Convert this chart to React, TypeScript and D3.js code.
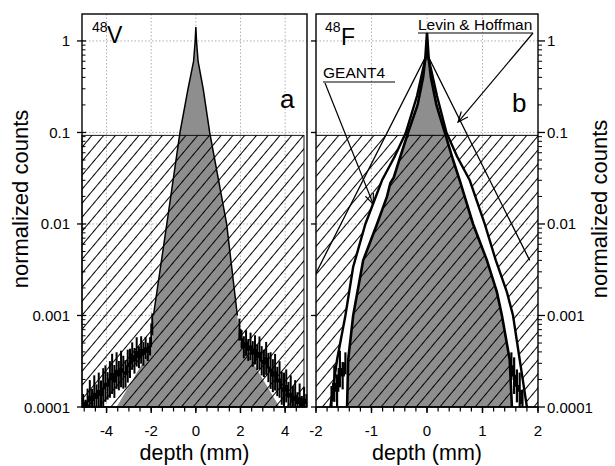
import React from "react";
import * as d3 from "d3";

const W = 615;
const H = 466;
const FONT = "Liberation Sans, Arial, Helvetica, sans-serif";

// shared log axis
const yTickValues = [1e-4, 1e-3, 1e-2, 1e-1, 1];
const yTickLabels = ["0.0001", "0.001", "0.01", "0.1", "1"];
const hatchTop = 0.093;

// ---- panel a : 48V ----
const aTicks = [-4, -2, 0, 2, 4];
const aTickLabels = ["-4", "-2", "0", "2", "4"];
// smooth fill (gray) incl. tails, outline uses the core part
const aFillDepth = [-3.55, -1.97, -1.9, -1.3, -0.71, -0.35, -0.1, -0.03, 0, 0.03, 0.1, 0.33, 0.62, 1.38, 1.86, 1.95, 3.75];
const aFillCounts = [1e-4, 4.5e-4, 0.001, 0.01, 0.1, 0.3, 0.6, 1.0, 1.42, 1.0, 0.6, 0.3, 0.1, 0.01, 0.001, 5.4e-4, 1e-4];
// noisy tails (bin centers, 0.1 mm bins)
const aTailLeftDepth = [-5.05, -4.95, -4.85, -4.75, -4.65, -4.55, -4.45, -4.35, -4.25, -4.15, -4.05, -3.95, -3.85, -3.75, -3.65, -3.55, -3.45, -3.35, -3.25, -3.15, -3.05, -2.95, -2.85, -2.75, -2.65, -2.55, -2.45, -2.35, -2.25, -2.15, -2.05, -1.95];
const aTailLeftCounts = [1.1e-4, 1.0e-4, 1.15e-4, 1.3e-4, 1.2e-4, 1.4e-4, 1.25e-4, 1.5e-4, 1.35e-4, 1.6e-4, 1.8e-4, 1.7e-4, 2.0e-4, 2.3e-4, 1.9e-4, 2.5e-4, 2.2e-4, 2.6e-4, 2.4e-4, 2.3e-4, 2.8e-4, 3.0e-4, 3.6e-4, 3.2e-4, 4.0e-4, 3.5e-4, 4.2e-4, 3.8e-4, 4.4e-4, 4.0e-4, 4.6e-4, 8.0e-4];
const aTailLeftErr = [0.1, 0.08, 0.14, 0.18, 0.12, 0.2, 0.15, 0.2, 0.16, 0.22, 0.2, 0.15, 0.2, 0.22, 0.18, 0.2, 0.16, 0.2, 0.18, 0.15, 0.18, 0.16, 0.15, 0.14, 0.16, 0.12, 0.15, 0.13, 0.12, 0.1, 0.1, 0.12];
const aTailRightDepth = [1.95, 2.05, 2.15, 2.25, 2.35, 2.45, 2.55, 2.65, 2.75, 2.85, 2.95, 3.05, 3.15, 3.25, 3.35, 3.45, 3.55, 3.65, 3.75, 3.85, 3.95, 4.05, 4.15, 4.25, 4.35, 4.45, 4.55, 4.65, 4.75, 4.85, 4.95];
const aTailRightCounts = [7e-4, 5.5e-4, 4.5e-4, 5.0e-4, 4.2e-4, 4.6e-4, 3.8e-4, 4.2e-4, 3.5e-4, 3.9e-4, 3.2e-4, 3.0e-4, 3.4e-4, 2.7e-4, 2.5e-4, 2.2e-4, 2.4e-4, 1.9e-4, 2.0e-4, 1.6e-4, 1.5e-4, 1.7e-4, 1.3e-4, 1.4e-4, 1.2e-4, 1.3e-4, 1.1e-4, 1.25e-4, 1.05e-4, 1.2e-4, 1.1e-4];
const aTailRightErr = [0.12, 0.1, 0.12, 0.14, 0.12, 0.15, 0.14, 0.16, 0.14, 0.18, 0.16, 0.15, 0.18, 0.16, 0.2, 0.18, 0.2, 0.16, 0.2, 0.18, 0.2, 0.18, 0.16, 0.2, 0.15, 0.18, 0.12, 0.16, 0.1, 0.14, 0.1];

// ---- panel b : 48F ----
const bTicks = [-2, -1, 0, 1, 2];
const bTickLabels = ["-2", "-1", "0", "1", "2"];
const bMeasDepth = [-1.44, -1.42, -1.33, -1.15, -0.9, -0.72, -0.66, -0.6, -0.5, -0.34, -0.17, -0.07, -0.03, 0, 0.03, 0.07, 0.17, 0.32, 0.47, 0.59, 0.83, 1.08, 1.26, 1.35, 1.49, 1.53];
const bMeasCounts = [1e-4, 3.3e-4, 0.001, 0.004, 0.01, 0.02, 0.028, 0.032, 0.05, 0.1, 0.2, 0.4, 0.65, 1.22, 0.65, 0.4, 0.2, 0.1, 0.05, 0.03, 0.01, 0.004, 0.0018, 0.001, 3.3e-4, 1e-4];
const bG4Depth = [-1.74, -1.62, -1.47, -1.33, -1.11, -0.81, -0.58, -0.38, -0.18, -0.07, 0, 0.07, 0.18, 0.35, 0.54, 0.77, 1.04, 1.24, 1.44, 1.55, 1.67, 1.8];
const bG4Counts = [1e-4, 3.3e-4, 0.001, 0.0034, 0.01, 0.03, 0.055, 0.1, 0.25, 0.5, 0.75, 0.5, 0.25, 0.1, 0.055, 0.03, 0.01, 0.004, 0.0018, 0.001, 3.3e-4, 1e-4];
const bLhDepth = [-2, 0, 1.85];
const bLhCounts = [0.0029, 0.72, 0.004];
const bTailLeftDepth = [-1.72, -1.67, -1.62, -1.57, -1.52, -1.47];
const bTailLeftCounts = [1.2e-4, 1.8e-4, 1.5e-4, 2.6e-4, 2.2e-4, 3.0e-4];
const bTailRightDepth = [1.52, 1.57, 1.62, 1.67, 1.72];
const bTailRightCounts = [2.8e-4, 2.2e-4, 1.7e-4, 1.5e-4, 1.1e-4];
const bTailErr = [0.15, 0.2, 0.18, 0.2, 0.15, 0.12];

const y = d3.scaleLog().domain([1e-4, 1.97]).range([407, 14]);
const xA = d3.scaleLinear().domain([-5.1, 4.98]).range([82, 307]);
const xB = d3.scaleLinear().domain([-2, 2]).range([316, 538]);

const zip = (a: number[], b: number[]) => a.map((d, i) => [d, b[i]] as [number, number]);

const minorValues: number[] = [];
[1e-4, 1e-3, 1e-2, 1e-1, 1].forEach((dec) => {
  for (let k = 2; k <= 9; k++) if (dec * k < 1.97) minorValues.push(dec * k);
});

function Arrow({ x1, y1, x2, y2 }: { x1: number; y1: number; x2: number; y2: number }) {
  const a = Math.atan2(y2 - y1, x2 - x1);
  const L = 11;
  const s = 0.4;
  const p1 = [x2 - L * Math.cos(a - s), y2 - L * Math.sin(a - s)];
  const p2 = [x2 - L * Math.cos(a + s), y2 - L * Math.sin(a + s)];
  return (
    <g stroke="#000" strokeWidth={1.2} fill="none">
      <line x1={x1} y1={y1} x2={x2} y2={y2} />
      <polyline points={`${p1[0]},${p1[1]} ${x2},${y2} ${p2[0]},${p2[1]}`} />
    </g>
  );
}

function Tail({ x, depth, counts, err, w }: any) {
  const line = d3
    .line<[number, number]>()
    .x((d) => x(d[0]))
    .y((d) => y(Math.max(d[1], 1e-4)))
    .curve(d3.curveStep);
  const pts = zip(depth, counts);
  return (
    <g>
      <path d={line(pts) || ""} fill="none" stroke="#000" strokeWidth={1.8} />
      {pts.map((p, i) => (
        <line
          key={i}
          x1={x(p[0])}
          x2={x(p[0])}
          y1={y(Math.max(p[1] / Math.pow(10, err[i % err.length]), 1e-4))}
          y2={y(Math.min(p[1] * Math.pow(10, err[i % err.length]), 1.9))}
          stroke="#000"
          strokeWidth={w}
        />
      ))}
    </g>
  );
}

function Grid({ x, ticks }: { x: any; ticks: number[] }) {
  const [x0, x1] = x.range();
  return (
    <g stroke="#9a9a9a" strokeWidth={0.8} strokeDasharray="1.5,2">
      {ticks.map((t) => (
        <line key={"v" + t} x1={x(t)} x2={x(t)} y1={14} y2={407} />
      ))}
      {yTickValues.slice(1).map((v) => (
        <line key={"h" + v} x1={x0} x2={x1} y1={y(v)} y2={y(v)} />
      ))}
    </g>
  );
}

function XAxis({ x, ticks, labels, minorStep }: any) {
  const [d0, d1] = x.domain();
  const minors = d3.range(Math.ceil(d0 / minorStep) * minorStep, d1 + 1e-9, minorStep);
  const [r0, r1] = x.range();
  return (
    <g>
      <line x1={r0} x2={r1} y1={407} y2={407} stroke="#000" strokeWidth={1.4} />
      {minors.map((m: number, i: number) => (
        <line key={i} x1={x(m)} x2={x(m)} y1={407} y2={411.5} stroke="#000" strokeWidth={1.2} />
      ))}
      {ticks.map((t: number, i: number) => (
        <g key={t}>
          <line x1={x(t)} x2={x(t)} y1={407} y2={413} stroke="#000" strokeWidth={1.4} />
          <text x={x(t)} y={436} textAnchor="middle" fontSize={15} fontFamily={FONT}>
            {labels[i]}
          </text>
        </g>
      ))}
      <text x={(r0 + r1) / 2} y={460} textAnchor="middle" fontSize={21.5} fontFamily={FONT}>
        depth (mm)
      </text>
    </g>
  );
}

export default function App() {
  const area = (x: any) =>
    d3
      .line<[number, number]>()
      .x((d) => x(d[0]))
      .y((d) => y(d[1]));

  const aFill = zip(aFillDepth, aFillCounts);
  const aOutline = aFill.slice(2, aFill.length - 2);
  const bMeas = zip(bMeasDepth, bMeasCounts);
  const bG4 = zip(bG4Depth, bG4Counts);
  const bLh = zip(bLhDepth, bLhCounts);

  const lineA = area(xA);
  const lineB = area(xB);

  const hyA = y(hatchTop);
  const gray = "#8e8e8e";

  return (
    <svg
      width={W}
      height={H}
      viewBox={`0 0 ${W} ${H}`}
      style={{ position: "absolute", left: 0, top: 0, background: "#fff" }}
    >
      <defs>
        <pattern id="hatch" patternUnits="userSpaceOnUse" width={9} height={9} patternTransform="rotate(40)">
          <line x1={4.5} y1={-1} x2={4.5} y2={10} stroke="#000" strokeWidth={1} />
        </pattern>
        <clipPath id="boxA">
          <rect x={82} y={hyA} width={304 - 82} height={407 - hyA} />
        </clipPath>
        <clipPath id="boxB">
          <rect x={316} y={hyA} width={538 - 316} height={407 - hyA} />
        </clipPath>
        <clipPath id="frameB">
          <rect x={316} y={14} width={222} height={393} />
        </clipPath>
      </defs>
      <rect width={W} height={H} fill="#fff" />

      {/* ---------- panel a ---------- */}
      <Grid x={xA} ticks={aTicks} />
      <path d={(lineA(aFill) || "") + "Z"} fill={gray} />
      <rect x={82} y={hyA} width={304 - 82} height={407 - hyA} fill="url(#hatch)" stroke="#000" strokeWidth={0.9} />
      <path d={lineA(aOutline) || ""} fill="none" stroke="#000" strokeWidth={1.5} />
      <Tail x={xA} depth={aTailLeftDepth} counts={aTailLeftCounts} err={aTailLeftErr} w={2} />
      <Tail x={xA} depth={aTailRightDepth} counts={aTailRightCounts} err={aTailRightErr} w={2} />
      <rect x={82} y={14} width={225} height={393} fill="none" stroke="#000" strokeWidth={1.4} />

      {/* left y axis */}
      <g>
        {yTickValues.map((v, i) => (
          <g key={v}>
            <line x1={77} x2={86} y1={y(v)} y2={y(v)} stroke="#000" strokeWidth={1.3} />
            <text x={70} y={y(v) + 5.5} textAnchor="end" fontSize={15} fontFamily={FONT}>
              {yTickLabels[i]}
            </text>
          </g>
        ))}
        {minorValues.map((v) => (
          <line key={v} x1={82} x2={85.5} y1={y(v)} y2={y(v)} stroke="#000" strokeWidth={1} />
        ))}
      </g>
      <text transform="translate(28,199) rotate(-90)" textAnchor="middle" fontSize={22} fontFamily={FONT}>
        normalized counts
      </text>
      <XAxis x={xA} ticks={aTicks} labels={aTickLabels} minorStep={0.5} />
      <text x={92} y={32} fontSize={14} fontFamily={FONT}>48</text>
      <text x={107} y={43} fontSize={23} fontFamily={FONT}>V</text>
      <text x={280} y={108} fontSize={26} fontFamily={FONT}>a</text>

      {/* ---------- panel b ---------- */}
      <Grid x={xB} ticks={[-1, 0, 1]} />
      <rect x={316} y={hyA} width={222} height={407 - hyA} fill="url(#hatch)" />
      <g clipPath="url(#frameB)">
        <path d={(lineB(bG4) || "") + "Z"} fill="#fff" />
        <path d={(lineB(bMeas) || "") + "Z"} fill={gray} />
        <path d={(lineB(bMeas) || "") + "Z"} fill="url(#hatch)" clipPath="url(#boxB)" />
        <path d={lineB(bLh) || ""} fill="none" stroke="#000" strokeWidth={1.3} />
        <path d={lineB(bG4) || ""} fill="none" stroke="#000" strokeWidth={2.4} />
        <path d={lineB(bMeas) || ""} fill="none" stroke="#000" strokeWidth={2.6} />
        <Tail x={xB} depth={bTailLeftDepth} counts={bTailLeftCounts} err={bTailErr} w={2.2} />
        <Tail x={xB} depth={bTailRightDepth} counts={bTailRightCounts} err={bTailErr} w={2.2} />
      </g>
      <line x1={316} x2={538} y1={hyA} y2={hyA} stroke="#000" strokeWidth={1} />
      <rect x={316} y={14} width={222} height={393} fill="none" stroke="#000" strokeWidth={1.4} />

      {/* right panel axes */}
      <g>
        {yTickValues.map((v, i) => (
          <g key={v}>
            <line x1={311} x2={316} y1={y(v)} y2={y(v)} stroke="#000" strokeWidth={1.3} />
            <line x1={538} x2={545} y1={y(v)} y2={y(v)} stroke="#000" strokeWidth={1.3} />
            <text x={547} y={y(v) + 5.5} fontSize={15} fontFamily={FONT}>
              {yTickLabels[i]}
            </text>
          </g>
        ))}
        {minorValues.map((v) => (
          <line key={v} x1={538} x2={542} y1={y(v)} y2={y(v)} stroke="#000" strokeWidth={1} />
        ))}
      </g>
      <text transform="translate(607,209) rotate(-90)" textAnchor="middle" fontSize={22} fontFamily={FONT}>
        normalized counts
      </text>
      <XAxis x={xB} ticks={bTicks} labels={bTickLabels} minorStep={0.2} />
      <text x={325} y={32} fontSize={14} fontFamily={FONT}>48</text>
      <text x={341} y={45} fontSize={23} fontFamily={FONT}>F</text>
      <text x={512} y={112} fontSize={26} fontFamily={FONT}>b</text>

      {/* annotations */}
      <text x={418} y={30} fontSize={15.5} fontFamily={FONT}>Levin &amp; Hoffman</text>
      <line x1={418} x2={533} y1={33} y2={33} stroke="#000" strokeWidth={1.1} />
      <Arrow x1={533} y1={33} x2={xB(0.56)} y2={y(0.13)} />
      <text x={323} y={78} fontSize={15.5} fontFamily={FONT}>GEANT4</text>
      <line x1={323} x2={395} y1={82} y2={82} stroke="#000" strokeWidth={1.1} />
      <Arrow x1={325} y1={83} x2={xB(-0.97)} y2={y(0.0165)} />
    </svg>
  );
}
